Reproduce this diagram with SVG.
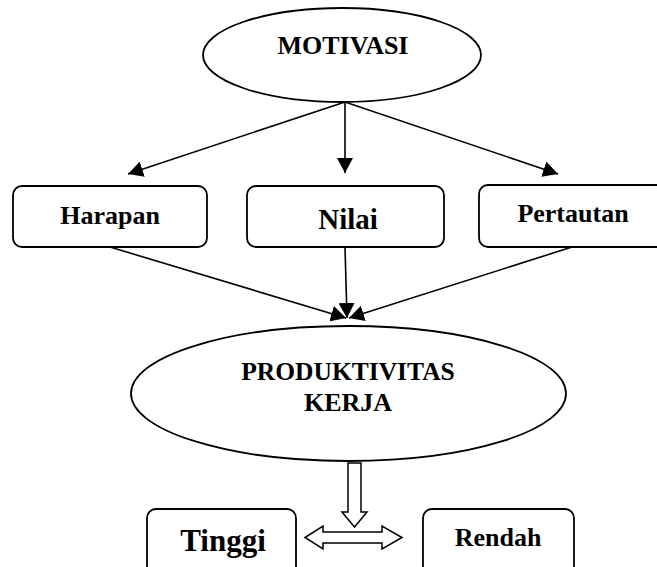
<svg xmlns="http://www.w3.org/2000/svg" width="657" height="567" viewBox="0 0 657 567">
<style>
.shape{fill:#fff;stroke:#000;stroke-width:1.8}
.line{fill:none;stroke:#000;stroke-width:1.6}
.block{fill:#fff;stroke:#000;stroke-width:1.5}
text{font-family:"Liberation Serif","Times New Roman",serif;font-weight:bold;text-anchor:middle;fill:#000}
</style>
<defs>
<marker id="ah" markerUnits="userSpaceOnUse" markerWidth="16" markerHeight="16" refX="15" refY="8" orient="auto">
<path d="M0,0 L15,8 L0,16 z" fill="#000"/>
</marker>
</defs>
<rect width="657" height="567" fill="#fff"/>
<g id="connectors">
<line class="line" x1="345" y1="102" x2="128" y2="174" marker-end="url(#ah)"/>
<line class="line" x1="345" y1="102" x2="345" y2="173" marker-end="url(#ah)"/>
<line class="line" x1="345" y1="102" x2="558" y2="174" marker-end="url(#ah)"/>
<line class="line" x1="110" y1="247" x2="346" y2="318" marker-end="url(#ah)"/>
<line class="line" x1="345" y1="247" x2="347" y2="318" marker-end="url(#ah)"/>
<line class="line" x1="572" y1="247" x2="349" y2="318" marker-end="url(#ah)"/>
<polygon class="block" points="348,463 361,463 361,512 367,512 354.5,527 342,512 348,512"/>
<polygon class="block" points="305,537.5 323,526 323,532 382,532 382,526 402,537.5 382,549 382,543 323,543 323,549"/>
</g>
<g id="motivasi">
<ellipse class="shape" cx="342" cy="55" rx="139" ry="47"/>
<text x="343" y="54" font-size="26">MOTIVASI</text>
</g>
<g id="harapan">
<rect class="shape" x="13" y="186" width="194" height="61" rx="9"/>
<text x="110" y="224" font-size="26">Harapan</text>
</g>
<g id="nilai">
<rect class="shape" x="247" y="186" width="197" height="61" rx="9"/>
<text x="348" y="229" font-size="29">Nilai</text>
</g>
<g id="pertautan">
<rect class="shape" x="479" y="185" width="200" height="62" rx="9"/>
<text x="573" y="222" font-size="26">Pertautan</text>
</g>
<g id="produktivitas">
<ellipse class="shape" cx="348.5" cy="393.5" rx="217.5" ry="67.5"/>
<text x="348" y="380" font-size="25.5">PRODUKTIVITAS</text>
<text x="348" y="411" font-size="26">KERJA</text>
</g>
<g id="tinggi">
<rect class="shape" x="147" y="509" width="149" height="70" rx="9"/>
<text x="223" y="551" font-size="31">Tinggi</text>
</g>
<g id="rendah">
<rect class="shape" x="423" y="509" width="151" height="70" rx="9"/>
<text x="498" y="546" font-size="26">Rendah</text>
</g>
</svg>
